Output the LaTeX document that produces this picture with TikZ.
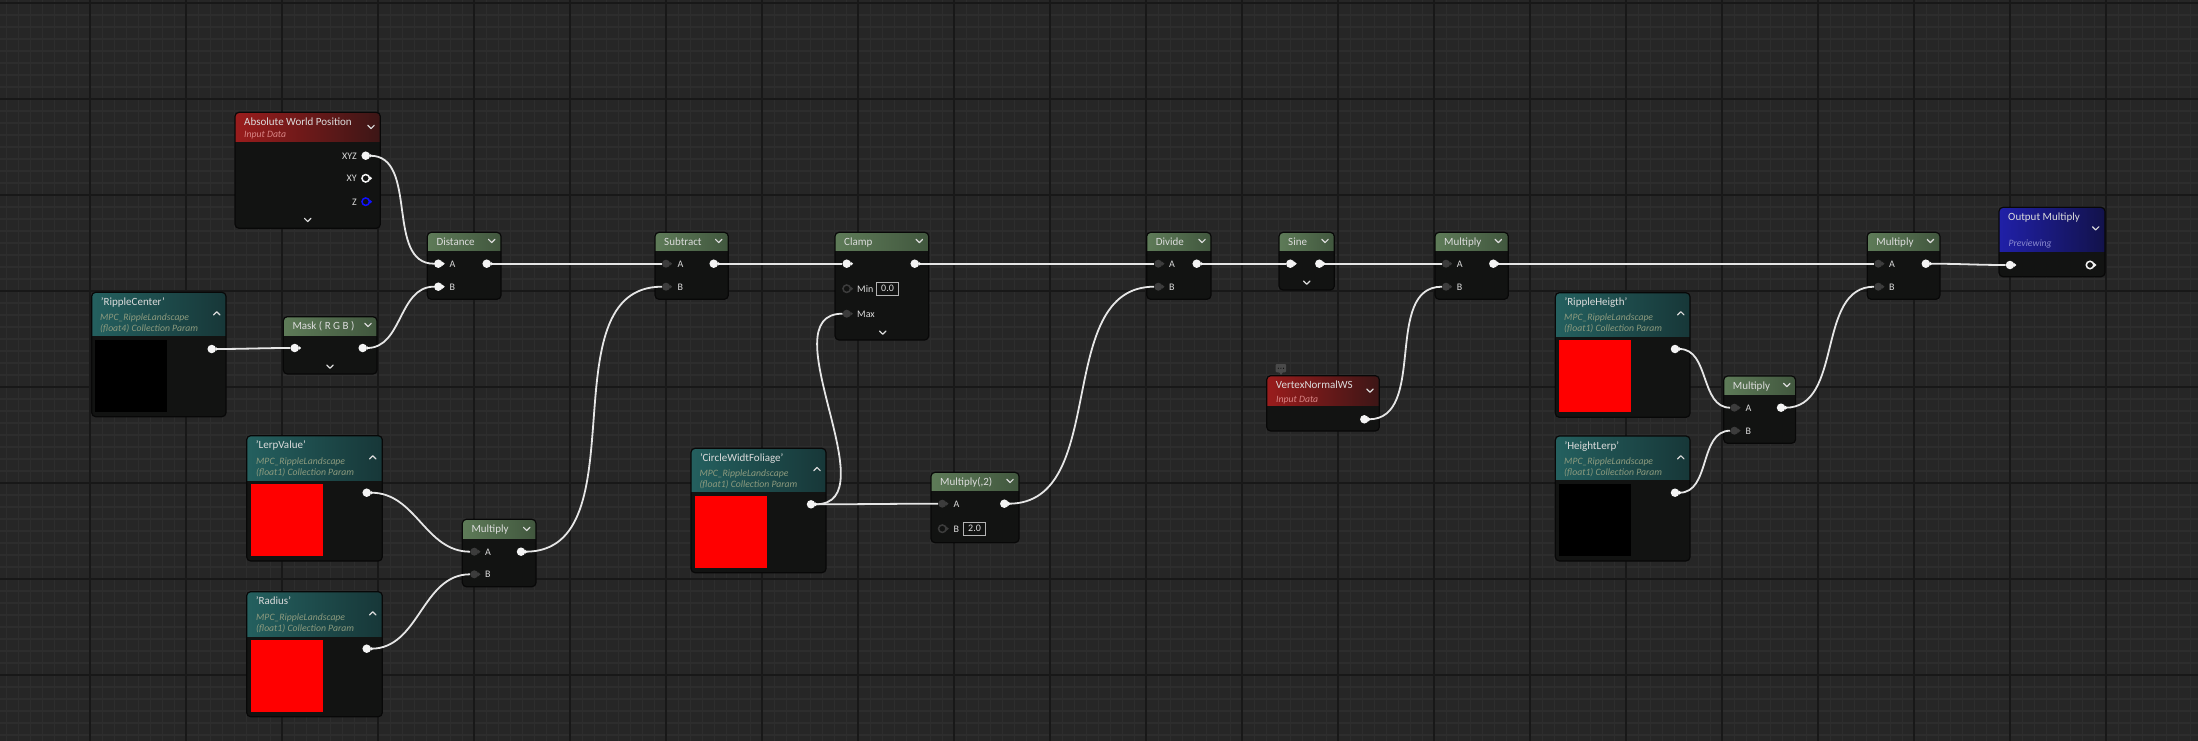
\documentclass[tikz,border=0pt]{standalone}
\usepackage{fontspec}
\setmainfont{Carlito}
\usetikzlibrary{positioning}
\definecolor{gridbg}{HTML}{262626}
\definecolor{gridminor}{HTML}{2D2D2D}
\definecolor{gridmajor}{HTML}{181818}
\definecolor{nodebody}{HTML}{121312}
\definecolor{nodeedge}{HTML}{080808}
\definecolor{titletext}{HTML}{DCDCDC}
\definecolor{wirecol}{HTML}{E6E6E6}
\definecolor{pinwhite}{HTML}{F4F4F4}
\definecolor{pindark}{HTML}{3C3C3C}
\definecolor{valedge}{HTML}{B4B4B4}
\definecolor{zblue}{HTML}{1010FF}
\definecolor{greenL}{HTML}{5E7B58}
\definecolor{greenR}{HTML}{41573E}
\definecolor{tealL}{HTML}{24605F}
\definecolor{tealR}{HTML}{173738}
\definecolor{redL}{HTML}{9A1C1C}
\definecolor{redR}{HTML}{3C1616}
\definecolor{blueL}{HTML}{2020A8}
\definecolor{blueR}{HTML}{12124A}
\definecolor{paramtext}{HTML}{8C9A7E}
\definecolor{inputtext}{HTML}{D88585}
\definecolor{prevtext}{HTML}{8A8AD0}
\definecolor{cmtgray}{HTML}{4A4A4A}

\pgfdeclarelayer{front}
\pgfsetlayers{main,front}

% name, x1, y1, x2, y2, header bottom, left colour, right colour, title
\newcommand{\matnode}[9]{%
  \node[body, minimum width={#4pt-#2pt}, minimum height={#5pt-#3pt}] (#1) at ({(#2+#4)/2},{(#3+#5)/2}) {};
  \begin{scope}
    \clip[rounded corners=4pt] (#2,#3) rectangle (#4,#5);
    \shade[left color=#7, right color=#8] (#2,#3) rectangle (#4,#6);
  \end{scope}
  \draw[nodeline] (#2,#3) rectangle (#4,#5);
  \node[title] (#1-t) at ({#2+9},{#3+13.2}) {#9};
}
% style, name, x, y, tip colour
\newcommand{\pin}[5]{%
  \node[#1] (#2) at (#3,#4) {};
  \fill[#5] ([xshift=-0.6pt,yshift=2.2pt]#2.east) -- ++(2.6,2.2) -- ++(-2.6,2.2) -- cycle;
}
\newcommand{\chev}[3]{\draw[chev] ({#1-3.2},{#2-1.6*#3}) -- (#1,{#2+1.6*#3}) -- ({#1+3.2},{#2-1.6*#3});}

\begin{document}
\begin{tikzpicture}[x=1pt, y=-1pt,
    body/.style={rectangle, rounded corners=4pt, fill=nodebody, inner sep=0},
    nodeline/.style={draw=nodeedge, line width=1.2, rounded corners=4pt},
    title/.style={anchor=base west, inner sep=0, text=titletext, font=\fontsize{11}{13}\selectfont},
    subt/.style={anchor=base west, inner sep=0, font=\fontsize{9.7}{11}\selectfont\itshape},
    plabel/.style={anchor=base west, inner sep=0, text=titletext, font=\fontsize{10}{12}\selectfont},
    opin/.style={circle, fill=pinwhite, inner sep=0, minimum size=8.5},
    dpin/.style={circle, fill=pindark, inner sep=0, minimum size=8},
    rpin/.style={circle, draw=#1, fill=nodebody, line width=1.5, inner sep=0, minimum size=7.5},
    wire/.style={draw=wirecol, line width=1.8, out=0, in=180},
    chev/.style={draw=titletext, line width=1.2, line cap=round, line join=round},
    valbox/.style={draw=valedge, line width=0.8, inner sep=0, minimum width=21.6,
                   minimum height=13.5, text=titletext, font=\fontsize{10}{12}\selectfont},
    gminor/.style={draw=gridminor, line width=1.6},
    gmajor/.style={draw=gridmajor, line width=2},
]
\useasboundingbox (0,0) rectangle (2198,741);
\fill[gridbg] (0,0) rectangle (2198,741);
\foreach \k in {0,...,183} \draw[gminor] ({6.3+12*\k},0) -- ({6.3+12*\k},741);
\foreach \k in {0,...,61} \draw[gminor] (0,{3+12*\k}) -- (2198,{3+12*\k});
\foreach \k in {0,...,21} \draw[gmajor] ({90.3+96*\k},0) -- ({90.3+96*\k},741);
\foreach \k in {0,...,7} \draw[gmajor] (0,{3+96*\k}) -- (2198,{3+96*\k});

% inputs
\matnode{awp}{235}{112.3}{380.3}{228.3}{141.7}{redL}{redR}{Absolute World Position}
\node[subt, text=inputtext] (awp-s) at (244,138) {Input Data};
\chev{371}{127}{1} \chev{307.7}{220}{1}
\node[plabel, anchor=base east] (awp-l1) at (357,159.2) {XYZ};
\node[plabel, anchor=base east] (awp-l2) at (357,181.8) {XY};
\node[plabel, anchor=base east] (awp-l3) at (357,205.2) {Z};

\matnode{rc}{91.7}{292.3}{226}{416.7}{335.7}{tealL}{tealR}{'RippleCenter'}
\node[subt, text=paramtext] (rc-s1) at (100,320) {MPC\_RippleLandscape};
\node[subt, text=paramtext] (rc-s2) at (100,331) {(float4) Collection Param};
\fill[black] (95,340) rectangle (167.3,411.7);
\chev{216.7}{313.3}{-1}

\matnode{mask}{283.3}{316.7}{377}{374}{335}{greenL}{greenR}{Mask ( R G B )}
\chev{368}{325}{1} \chev{330}{366.7}{1}

\matnode{dist}{427.3}{232.3}{501}{299.3}{250}{greenL}{greenR}{Distance}
\chev{491.7}{241}{1}
\node[plabel] (dist-la) at (449.3,267.2) {A};
\node[plabel] (dist-lb) at (449.3,290.2) {B};

\matnode{sub}{655}{232.3}{728.3}{299.3}{250}{greenL}{greenR}{Subtract}
\chev{718.7}{241}{1}
\node[plabel] (sub-la) at (677.3,267.2) {A};
\node[plabel] (sub-lb) at (677.3,290.2) {B};

\matnode{lerp}{246.7}{435.7}{382.3}{561}{480}{tealL}{tealR}{'LerpValue'}
\node[subt, text=paramtext] (lerp-s1) at (256,464.3) {MPC\_RippleLandscape};
\node[subt, text=paramtext] (lerp-s2) at (256,475.3) {(float1) Collection Param};
\fill[red] (251,484) rectangle (323,556);
\chev{372.7}{457.3}{-1}

\matnode{rad}{246.7}{591.7}{382.3}{716.7}{636}{tealL}{tealR}{'Radius'}
\node[subt, text=paramtext] (rad-s1) at (256,620) {MPC\_RippleLandscape};
\node[subt, text=paramtext] (rad-s2) at (256,631) {(float1) Collection Param};
\fill[red] (251,640) rectangle (323,711.7);
\chev{372.7}{613.3}{-1}

\matnode{mul1}{462.3}{519.3}{536}{586.7}{538.3}{greenL}{greenR}{Multiply}
\chev{526.7}{529}{1}
\node[plabel] (mul1-la) at (485,555.2) {A};
\node[plabel] (mul1-lb) at (485,577.8) {B};

\matnode{clamp}{835}{232.3}{928.7}{340}{250}{greenL}{greenR}{Clamp}
\chev{919.3}{241}{1} \chev{882.7}{332.7}{1}
\node[plabel] (clamp-lmin) at (857,292.2) {Min};
\node[plabel] (clamp-lmax) at (857,317.2) {Max};
\node[valbox] (clamp-v) at (887.5,288.7) {0.0};

\matnode{cwf}{691}{448.3}{826}{572.7}{491.7}{tealL}{tealR}{'CircleWidtFoliage'}
\node[subt, text=paramtext] (cwf-s1) at (699.3,476) {MPC\_RippleLandscape};
\node[subt, text=paramtext] (cwf-s2) at (699.3,487) {(float1) Collection Param};
\fill[red] (695,496) rectangle (767,567.7);
\chev{817}{469}{-1}

\matnode{mul2x}{931}{472.3}{1019}{542.7}{490}{greenL}{greenR}{Multiply(,2)}
\chev{1010}{481}{1}
\node[plabel] (mul2x-la) at (953.3,507.2) {A};
\node[plabel] (mul2x-lb) at (953.3,532.2) {B};
\node[valbox] (mul2x-v) at (974.5,528.7) {2.0};

\matnode{div}{1146.7}{232.3}{1211}{299.3}{250}{greenL}{greenR}{Divide}
\chev{1202}{241}{1}
\node[plabel] (div-la) at (1169,267.2) {A};
\node[plabel] (div-lb) at (1169,290.2) {B};

\matnode{sine}{1279}{232.3}{1334.3}{290}{250}{greenL}{greenR}{Sine}
\chev{1325}{241}{1} \chev{1306.7}{282.7}{1}

\matnode{mulv}{1435}{232.3}{1508.3}{299.3}{250}{greenL}{greenR}{Multiply}
\chev{1498.3}{241}{1}
\node[plabel] (mulv-la) at (1456.7,267.2) {A};
\node[plabel] (mulv-lb) at (1456.7,290.2) {B};

\matnode{vn}{1266.7}{375.7}{1379.3}{431}{405.7}{redL}{redR}{VertexNormalWS}
\node[subt, text=inputtext] (vn-s) at (1276,402) {Input Data};
\chev{1370}{390.7}{1}
\fill[cmtgray, rounded corners=1pt] (1275.7,364) rectangle (1286,372.3);
\fill[cmtgray] (1279,372) -- (1281,375) -- (1283,372) -- cycle;
\foreach \dx in {1278.3,1280.9,1283.5} \fill[nodeedge] (\dx,368.2) circle (0.6);

\matnode{rh}{1555.3}{292.7}{1690}{417.3}{336}{tealL}{tealR}{'RippleHeigth'}
\node[subt, text=paramtext] (rh-s1) at (1564,320) {MPC\_RippleLandscape};
\node[subt, text=paramtext] (rh-s2) at (1564,331) {(float1) Collection Param};
\fill[red] (1559,340) rectangle (1631,411.7);
\chev{1680.8}{313.3}{-1}

\matnode{hl}{1555.3}{436}{1690}{561}{479.3}{tealL}{tealR}{'HeightLerp'}
\node[subt, text=paramtext] (hl-s1) at (1564,464.3) {MPC\_RippleLandscape};
\node[subt, text=paramtext] (hl-s2) at (1564,475.3) {(float1) Collection Param};
\fill[black] (1559,484) rectangle (1631,555.7);
\chev{1680.8}{457.3}{-1}

\matnode{mulh}{1723.7}{376}{1795.6}{443.3}{394.3}{greenL}{greenR}{Multiply}
\chev{1786.8}{385}{1}
\node[plabel] (mulh-la) at (1745.5,411.2) {A};
\node[plabel] (mulh-lb) at (1745.5,434.2) {B};

\matnode{mulo}{1867.2}{232.3}{1939.9}{299.3}{250}{greenL}{greenR}{Multiply}
\chev{1930.4}{241}{1}
\node[plabel] (mulo-la) at (1889,267.2) {A};
\node[plabel] (mulo-lb) at (1889,290.2) {B};

\matnode{out}{1999}{207.3}{2105}{276.7}{251.7}{blueL}{blueR}{Output Multiply}
\node[subt, text=prevtext] (out-s) at (2008.3,246.5) {Previewing};
\chev{2095.7}{228.3}{1}

% pins
\begin{pgfonlayer}{front}
\pin{opin}{awp-xyz}{365.7}{155.7}{pinwhite}
\pin{rpin=pinwhite}{awp-xy}{365.7}{178.3}{pinwhite}
\pin{rpin=zblue}{awp-z}{365.7}{201.7}{zblue}
\pin{opin}{rc-o}{211.7}{349}{pinwhite}
\pin{opin}{mask-i}{294.7}{348}{pinwhite}
\pin{opin}{mask-o}{362.7}{348}{pinwhite}
\pin{opin}{dist-a}{438.3}{263.7}{pinwhite}
\pin{opin}{dist-b}{438.3}{286.7}{pinwhite}
\pin{opin}{dist-o}{486.7}{263.7}{pinwhite}
\pin{dpin}{sub-a}{666}{263.7}{pindark}
\pin{dpin}{sub-b}{666}{286.7}{pindark}
\pin{opin}{sub-o}{713.7}{263.7}{pinwhite}
\pin{opin}{lerp-o}{366.7}{492.7}{pinwhite}
\pin{opin}{rad-o}{366.7}{648.7}{pinwhite}
\pin{dpin}{mul1-a}{474.3}{551.7}{pindark}
\pin{dpin}{mul1-b}{474.3}{574.3}{pindark}
\pin{opin}{mul1-o}{521}{551.7}{pinwhite}
\pin{opin}{clamp-i}{846.7}{263.7}{pinwhite}
\pin{rpin=pindark}{clamp-min}{846.7}{288.7}{pindark}
\pin{dpin}{clamp-max}{846.7}{313.7}{pindark}
\pin{opin}{clamp-o}{914.7}{263.7}{pinwhite}
\pin{opin}{cwf-o}{811}{504.3}{pinwhite}
\pin{dpin}{mul2x-a}{942.3}{503.7}{pindark}
\pin{rpin=pindark}{mul2x-b}{942.3}{528.7}{pindark}
\pin{opin}{mul2x-o}{1004.3}{503.7}{pinwhite}
\pin{dpin}{div-a}{1158.3}{263.7}{pindark}
\pin{dpin}{div-b}{1158.3}{286.7}{pindark}
\pin{opin}{div-o}{1196.7}{263.7}{pinwhite}
\pin{opin}{sine-i}{1290.3}{263.7}{pinwhite}
\pin{opin}{sine-o}{1319.3}{263.7}{pinwhite}
\pin{dpin}{mulv-a}{1446}{263.7}{pindark}
\pin{dpin}{mulv-b}{1446}{286.7}{pindark}
\pin{opin}{mulv-o}{1493.3}{263.7}{pinwhite}
\pin{opin}{vn-o}{1364.3}{419.3}{pinwhite}
\pin{opin}{rh-o}{1675}{349}{pinwhite}
\pin{opin}{hl-o}{1675}{492.7}{pinwhite}
\pin{dpin}{mulh-a}{1734.4}{407.7}{pindark}
\pin{dpin}{mulh-b}{1734.4}{430.7}{pindark}
\pin{opin}{mulh-o}{1781}{407.7}{pinwhite}
\pin{dpin}{mulo-a}{1878.3}{263.7}{pindark}
\pin{dpin}{mulo-b}{1878.3}{286.7}{pindark}
\pin{opin}{mulo-o}{1925.8}{263.7}{pinwhite}
\pin{opin}{out-i}{2010}{265}{pinwhite}
\pin{rpin=pinwhite}{out-o}{2090}{265}{pinwhite}
\end{pgfonlayer}

% wires
\draw[wire] (awp-xyz) to (dist-a);
\draw[wire] (rc-o) to (mask-i);
\draw[wire] (mask-o) to (dist-b);
\draw[wire] (dist-o) to (sub-a);
\draw[wire] (lerp-o) to (mul1-a);
\draw[wire] (rad-o) to (mul1-b);
\draw[wire] (mul1-o) to (sub-b);
\draw[wire] (sub-o) to (clamp-i);
\draw[wire] (cwf-o) to (clamp-max);
\draw[wire] (cwf-o) to (mul2x-a);
\draw[wire] (clamp-o) to (div-a);
\draw[wire] (mul2x-o) to (div-b);
\draw[wire] (div-o) to (sine-i);
\draw[wire] (sine-o) to (mulv-a);
\draw[wire] (vn-o) to (mulv-b);
\draw[wire] (mulv-o) to (mulo-a);
\draw[wire] (rh-o) to (mulh-a);
\draw[wire] (hl-o) to (mulh-b);
\draw[wire] (mulh-o) to (mulo-b);
\draw[wire] (mulo-o) to (out-i);
\end{tikzpicture}
\end{document}
